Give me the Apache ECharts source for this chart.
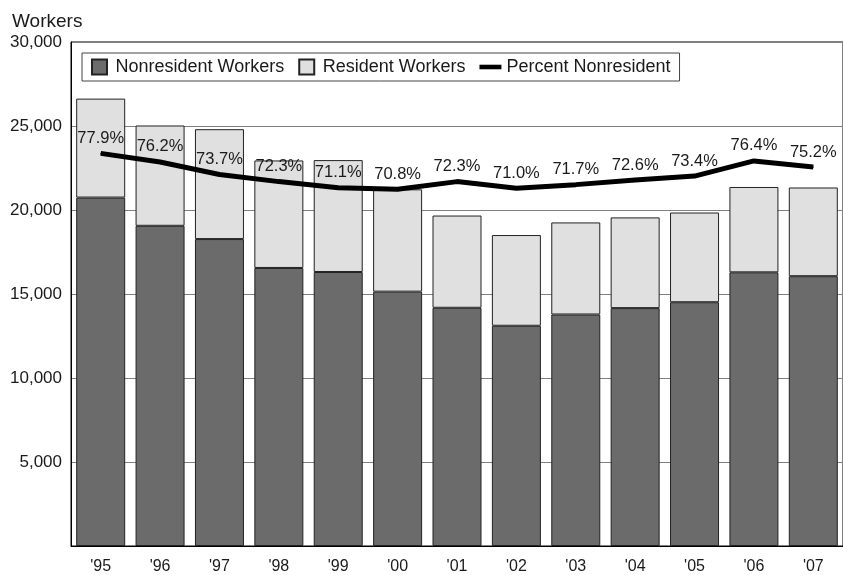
<!DOCTYPE html>
<html>
<head>
<meta charset="utf-8">
<script src="https://cdn.jsdelivr.net/npm/echarts@6/dist/echarts.min.js"></script>
<style>
  html, body { margin: 0; padding: 0; background: #fff; }
  #chart { width: 843px; height: 575px; }
</style>
</head>
<body>
<div id="chart"></div>
<script>
const years = ["'95", "'96", "'97", "'98", "'99", "'00", "'01", "'02", "'03", "'04", "'05", "'06", "'07"]
const nonresident = [20740, 19060, 18270, 16550, 16310, 15140, 14180, 13110, 13780, 14160, 14510, 16290, 16060]
const resident = [5890, 5970, 6540, 6400, 6660, 6090, 5490, 5400, 5480, 5400, 5340, 5080, 5280]
const pctNonresident = [77.9, 76.2, 73.7, 72.3, 71.1, 70.8, 72.3, 71.0, 71.7, 72.6, 73.4, 76.4, 75.2]

const font = '"Liberation Sans", Arial, sans-serif'
const textColor = '#1a1a1a'
const square = 'path://M0,0H10V10H0Z'
const thickLine = 'path://M0,0H24V5H0Z'

const chart = echarts.init(document.getElementById('chart'))
chart.setOption({
  animation: false,
  backgroundColor: '#fff',
  textStyle: { fontFamily: font, color: textColor },
  title: { text: 'Workers', left: 7, top: 7, textStyle: { fontSize: 19, fontWeight: 'normal', color: textColor, fontFamily: font } },
  legend: {
    left: 82, top: 53, padding: [5, 9, 5, 9],
    borderColor: '#444', borderWidth: 1, backgroundColor: '#fff',
    itemWidth: 22, itemHeight: 15, itemGap: 14, itemTextGap: 3,
    textStyle: { fontSize: 18, color: textColor, fontFamily: font },
    data: [
      { name: 'Nonresident Workers', icon: square },
      { name: 'Resident Workers', icon: square },
      { name: 'Percent Nonresident', icon: thickLine, itemStyle: { color: '#000' } },
    ],
  },
  grid: { left: 71, right: -8, top: 42, bottom: 27, show: true, borderColor: '#000', borderWidth: 1, containLabel: false },
  xAxis: {
    type: 'category', data: years,
    axisLine: { lineStyle: { color: '#000', width: 1 } },
    axisTick: { show: false },
    axisLabel: { fontSize: 16, color: textColor, margin: 13 },
  },
  yAxis: [
    {
      type: 'value', min: 0, max: 30000, interval: 5000,
      axisLine: { show: true, lineStyle: { color: '#000' } },
      axisTick: { show: false },
      splitLine: { lineStyle: { color: '#808080', width: 1 } },
      axisLabel: {
        fontSize: 17, color: textColor, margin: 9, padding: [5, 0, 0, 0],
        formatter: v => v === 0 ? '' : v.toLocaleString('en-US'),
      },
    },
    { type: 'value', min: 0, max: 100, show: false },
  ],
  series: [
    {
      name: 'Nonresident Workers', type: 'bar', stack: 'w', data: nonresident, barWidth: 49,
      itemStyle: { color: '#6b6b6b', borderColor: '#222', borderWidth: 1 },
    },
    {
      name: 'Resident Workers', type: 'bar', stack: 'w', data: resident, barWidth: 49,
      itemStyle: { color: '#e0e0e0', borderColor: '#222', borderWidth: 1 },
    },
    {
      name: 'Percent Nonresident', type: 'line', yAxisIndex: 1, data: pctNonresident,
      symbol: 'circle', symbolSize: 1, showSymbol: true, z: 5,
      lineStyle: { color: '#000', width: 5 },
      itemStyle: { color: '#000' },
      label: {
        show: true, position: 'top', distance: 6, fontSize: 16.5, color: textColor, fontFamily: font,
        formatter: p => p.value.toFixed(1) + '%',
      },
    },
  ],
})
</script>
</body>
</html>
